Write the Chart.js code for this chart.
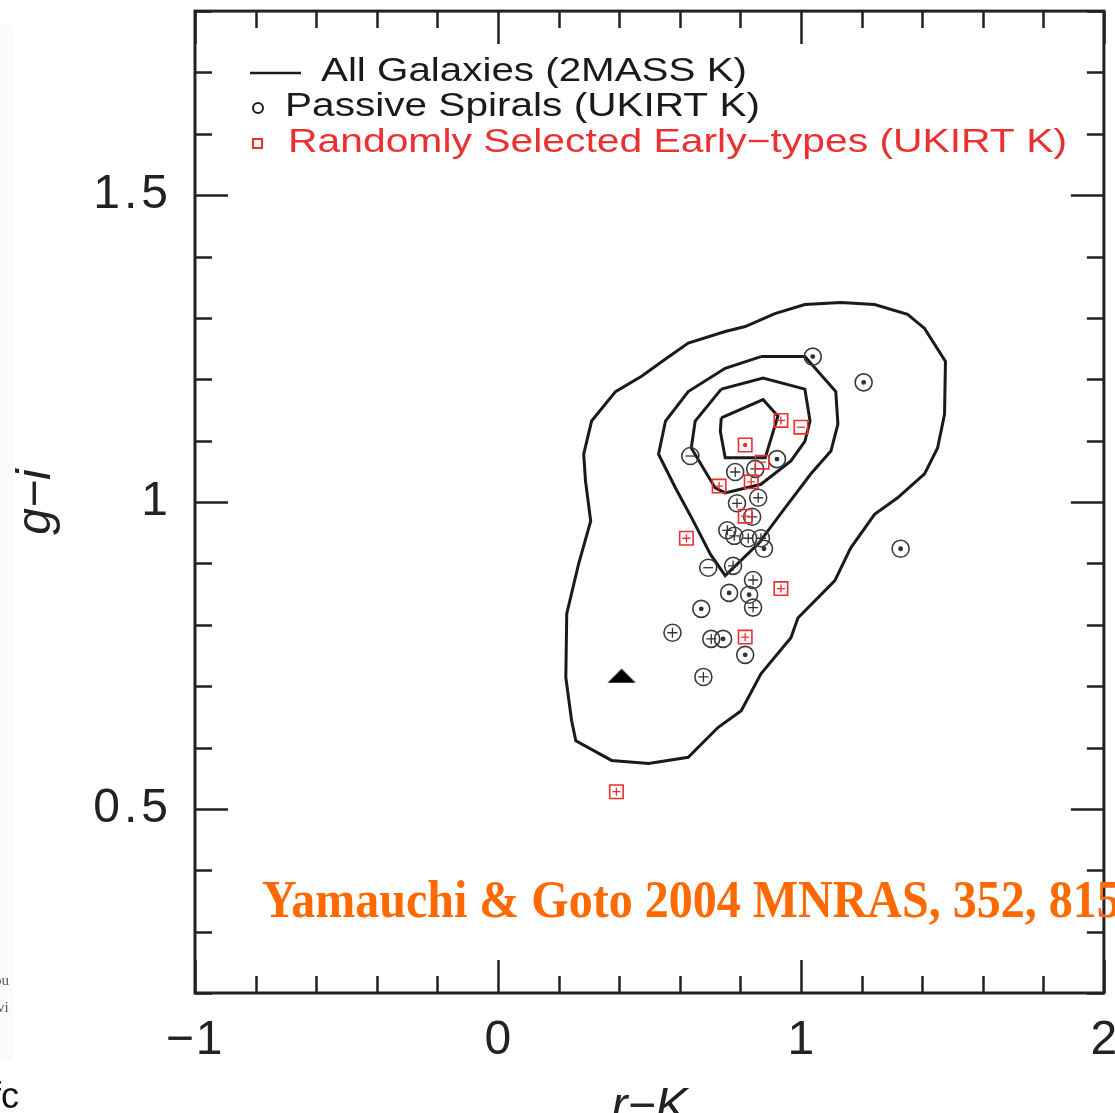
<!DOCTYPE html>
<html>
<head>
<meta charset="utf-8">
<script src="https://cdn.jsdelivr.net/npm/chart.js@4.4.1/dist/chart.umd.min.js"></script>
<style>
  html, body { margin: 0; padding: 0; background: #fff; overflow: hidden; }
  #wrap { position: relative; width: 1115px; height: 1113px; }
</style>
</head>
<body>
<div id="wrap"><canvas id="cmd" width="1115" height="1113"></canvas></div>
<script>
/* r-K vs g-i colour-colour diagram, contours + two samples */

// density contours of all galaxies (2MASS K), closed polygons [r-K, g-i]
const contourOuter = [
  [1.132,1.325],[1.243,1.322],[1.352,1.306],[1.408,1.283],[1.477,1.229],[1.474,1.143],
  [1.451,1.088],[1.408,1.046],[1.319,1.007],[1.243,0.980],[1.164,0.925],[1.112,0.872],
  [0.990,0.811],[0.967,0.779],[0.868,0.720],[0.803,0.660],[0.727,0.633],[0.628,0.584],
  [0.497,0.574],[0.375,0.579],[0.257,0.611],[0.243,0.644],[0.224,0.714],[0.227,0.818],
  [0.266,0.899],[0.306,0.969],[0.289,1.034],[0.283,1.078],[0.309,1.132],[0.388,1.180],
  [0.474,1.205],[0.553,1.233],[0.628,1.259],[0.750,1.278],[0.816,1.286],[0.914,1.307],
  [1.013,1.322],[1.132,1.325]
];
const contourSecond = [
  [0.868,1.237],[1.013,1.237],[1.115,1.180],[1.122,1.127],[1.099,1.083],[1.033,1.046],
  [0.947,0.990],[0.859,0.932],[0.750,0.880],[0.701,0.915],[0.645,0.969],[0.586,1.023],
  [0.530,1.078],[0.553,1.132],[0.628,1.180],[0.750,1.218],[0.868,1.237]
];
const contourThird = [
  [0.737,1.184],[0.875,1.202],[1.013,1.184],[1.030,1.132],[1.013,1.099],[0.967,1.067],
  [0.868,1.029],[0.750,1.015],[0.717,1.023],[0.638,1.088],[0.651,1.132],[0.737,1.184]
];
const contourInner = [
  [0.737,1.137],[0.875,1.167],[0.924,1.140],[0.882,1.072],[0.750,1.072],[0.734,1.115],
  [0.737,1.137]
];

// passive spirals (UKIRT K)
const spiralRK = [1.039,1.207,0.635,0.921,0.783,0.849,0.859,0.789,0.839,0.757,0.780,0.826,0.868,0.878,
                  0.694,0.776,0.842,0.763,0.829,0.842,0.671,0.576,0.704,0.743,0.816,0.678,1.329];
const spiralGI = [1.237,1.195,1.075,1.070,1.049,1.054,1.007,0.998,0.976,0.954,0.945,0.941,0.941,0.924,
                  0.893,0.896,0.873,0.852,0.849,0.828,0.826,0.787,0.777,0.777,0.751,0.715,0.924];
const spiralMark = ['d','d','m','d','p','p','p','p','p','p','p','p','p','d',
                    'm','p','p','d','d','p','d','p','p','d','d','p','d'];

// randomly selected early-types (UKIRT K)
const earlyRK = [0.934,1.000,0.816,0.872,0.836,0.730,0.816,0.622,0.934,0.816,0.391];
const earlyGI = [1.133,1.122,1.093,1.065,1.033,1.026,0.977,0.941,0.859,0.780,0.528];
const earlyMark = ['p','m','d','m','p','p','p','p','p','p','p'];

// single reference object (filled triangle)
const refRK = [0.408];
const refGI = [0.717];

// axes
const xMin = -1, xMax = 2, yMin = 0.2, yMax = 1.8;
const xMajor = [-1, 0, 1, 2];
const xTickLabels = ['\u22121', '0', '1', '2'];
const yMajor = [0.5, 1, 1.5];
const yTickLabels = ['0.5', '1', '1.5'];
const xTitle = 'r\u2212K';
const yTitle = 'g\u2212i';

const legendLabels = ['All Galaxies (2MASS K)', 'Passive Spirals (UKIRT K)', 'Randomly Selected Early\u2212types (UKIRT K)'];
const creditText = 'Yamauchi & Goto 2004 MNRAS, 352, 815';

const INK = '#1a1a1a';
const RED = 'rgb(236,48,48)';
const ORANGE = '#ff6a00';
const SANS = '"Liberation Sans", Arial, sans-serif';
const SERIF = '"Liberation Serif", "Times New Roman", serif';

const pts = (xs, ys) => xs.map((x, i) => ({ x, y: ys[i] }));
const poly = arr => arr.map(p => ({ x: p[0], y: p[1] }));
const markStyle = m => m === 'p' ? 'cross' : (m === 'm' ? 'line' : 'circle');

// flat filled triangle marker
const triMarker = document.createElement('canvas');
triMarker.width = 30; triMarker.height = 16;
(function () {
  const c = triMarker.getContext('2d');
  c.fillStyle = '#000';
  c.beginPath();
  c.moveTo(15, 1); c.lineTo(29, 15); c.lineTo(1, 15); c.closePath();
  c.fill();
})();

function contourSet(arr) {
  return {
    data: poly(arr),
    showLine: true,
    borderColor: INK,
    borderWidth: 3,
    pointRadius: 0,
    fill: false,
    tension: 0,
    order: 10,
  };
}

// text stretched horizontally so it spans the given width (wide plotter lettering)
function wideText(ctx, text, x, y, width) {
  const w0 = ctx.measureText(text).width;
  ctx.save();
  ctx.translate(x, y);
  ctx.scale(width / w0, 1);
  ctx.fillText(text, 0, 0);
  ctx.restore();
}

const framePlugin = {
  id: 'frame',
  beforeDraw(chart) {
    const ctx = chart.ctx;
    ctx.save();
    ctx.fillStyle = '#fff';
    ctx.fillRect(0, 0, chart.width, chart.height);
    // faint page edge on the far left
    ctx.fillStyle = '#fafafa';
    ctx.fillRect(0, 25, 13, 1035);
    ctx.fillStyle = '#555';
    ctx.font = '15px ' + SERIF;
    ctx.fillText('ou', -6, 985);
    ctx.fillText('vi', -3, 1012);
    ctx.fillStyle = '#111';
    ctx.font = '36px ' + SANS;
    ctx.fillText('fc', -9, 1108);
    ctx.restore();
  },
  afterDatasetsDraw(chart) {
    const { ctx, chartArea: a, scales: { x, y } } = chart;
    ctx.save();
    ctx.strokeStyle = '#222';
    ctx.lineCap = 'butt';

    // ticks, all four sides, pointing inwards
    ctx.lineWidth = 2.5;
    ctx.beginPath();
    for (let i = 0; i <= 15; i++) {
      const v = xMin + i * 0.2;
      const px = Math.round(x.getPixelForValue(v)) + 0.5;
      const len = i % 5 === 0 ? 33 : 17;
      ctx.moveTo(px, a.bottom); ctx.lineTo(px, a.bottom - len);
      ctx.moveTo(px, a.top); ctx.lineTo(px, a.top + len);
    }
    for (let i = 0; i <= 16; i++) {
      const v = yMin + i * 0.1;
      const py = Math.round(y.getPixelForValue(v)) + 0.5;
      const len = (i + 2) % 5 === 0 ? 33 : 17;
      ctx.moveTo(a.left, py); ctx.lineTo(a.left + len, py);
      ctx.moveTo(a.right, py); ctx.lineTo(a.right - len, py);
    }
    ctx.stroke();

    ctx.lineWidth = 3;
    ctx.strokeRect(a.left, a.top, a.right - a.left, a.bottom - a.top);

    // tick labels
    ctx.fillStyle = '#222';
    ctx.font = '48px ' + SANS;
    ctx.textBaseline = 'middle';
    ctx.textAlign = 'center';
    xMajor.forEach((v, i) => {
      ctx.letterSpacing = i === 0 ? '2px' : '0px';
      ctx.fillText(xTickLabels[i], x.getPixelForValue(v), a.bottom + 48);
    });
    ctx.textAlign = 'right';
    ctx.letterSpacing = '4px';
    yMajor.forEach((v, i) => {
      ctx.fillText(yTickLabels[i], a.left - 23, y.getPixelForValue(v));
    });
    ctx.letterSpacing = '0px';

    // axis titles
    ctx.font = 'italic 48px ' + SANS;
    ctx.textAlign = 'center';
    ctx.textBaseline = 'alphabetic';
    ctx.fillText(xTitle, (a.left + a.right) / 2, a.bottom + 128);
    ctx.save();
    ctx.translate(50, (a.top + a.bottom) / 2);
    ctx.rotate(-Math.PI / 2);
    ctx.fillText(yTitle, 0, 0);
    ctx.restore();

    // key
    ctx.textAlign = 'left';
    ctx.textBaseline = 'middle';
    ctx.font = '33px ' + SANS;
    ctx.lineWidth = 2.5;
    ctx.strokeStyle = INK;
    ctx.beginPath(); ctx.moveTo(250, 73); ctx.lineTo(301, 73); ctx.stroke();
    ctx.fillStyle = INK;
    wideText(ctx, legendLabels[0], 321, 72, 426);
    ctx.lineWidth = 2;
    ctx.beginPath(); ctx.arc(258, 108, 5, 0, Math.PI * 2); ctx.stroke();
    wideText(ctx, legendLabels[1], 285, 107, 475);
    ctx.strokeStyle = RED;
    ctx.strokeRect(253, 139, 9, 9);
    ctx.fillStyle = RED;
    wideText(ctx, legendLabels[2], 288, 143, 779);

    // credit line
    ctx.fillStyle = ORANGE;
    ctx.font = 'bold 48px ' + SERIF;
    ctx.textBaseline = 'alphabetic';
    ctx.save();
    ctx.translate(262, 917);
    ctx.scale(1, 1.12);
    ctx.fillText(creditText, 0, 0);
    ctx.restore();

    ctx.restore();
  },
};

new Chart(document.getElementById('cmd'), {
  type: 'scatter',
  data: {
    datasets: [
      {
        data: pts(refRK, refGI),
        pointStyle: triMarker,
        pointRadius: 10,
        order: 0,
      },
      {
        data: pts(earlyRK, earlyGI),
        pointStyle: earlyMark.map(markStyle),
        pointRadius: earlyMark.map(m => m === 'd' ? 1.6 : 4),
        borderColor: RED,
        backgroundColor: RED,
        borderWidth: 1.3,
        order: 1,
      },
      {
        data: pts(earlyRK, earlyGI),
        pointStyle: 'rect',
        pointRadius: 9.5,
        borderColor: RED,
        backgroundColor: 'rgba(255,255,255,0)',
        borderWidth: 1.6,
        order: 2,
      },
      {
        data: pts(spiralRK, spiralGI),
        pointStyle: spiralMark.map(markStyle),
        pointRadius: spiralMark.map(m => m === 'd' ? 1.8 : 5),
        borderColor: '#333',
        backgroundColor: '#333',
        borderWidth: 1.3,
        order: 3,
      },
      {
        data: pts(spiralRK, spiralGI),
        pointStyle: 'circle',
        pointRadius: 8.5,
        borderColor: '#3a3a3a',
        backgroundColor: 'rgba(255,255,255,0)',
        borderWidth: 1.6,
        order: 4,
      },
      contourSet(contourOuter),
      contourSet(contourSecond),
      contourSet(contourThird),
      contourSet(contourInner),
    ],
  },
  options: {
    responsive: false,
    animation: false,
    events: [],
    layout: { padding: { left: 195, right: 8, top: 11, bottom: 120 } },
    plugins: {
      legend: { display: false },
      tooltip: { enabled: false },
    },
    scales: {
      x: { type: 'linear', min: xMin, max: xMax, display: false },
      y: { type: 'linear', min: yMin, max: yMax, display: false },
    },
  },
  plugins: [framePlugin],
});
</script>
</body>
</html>
